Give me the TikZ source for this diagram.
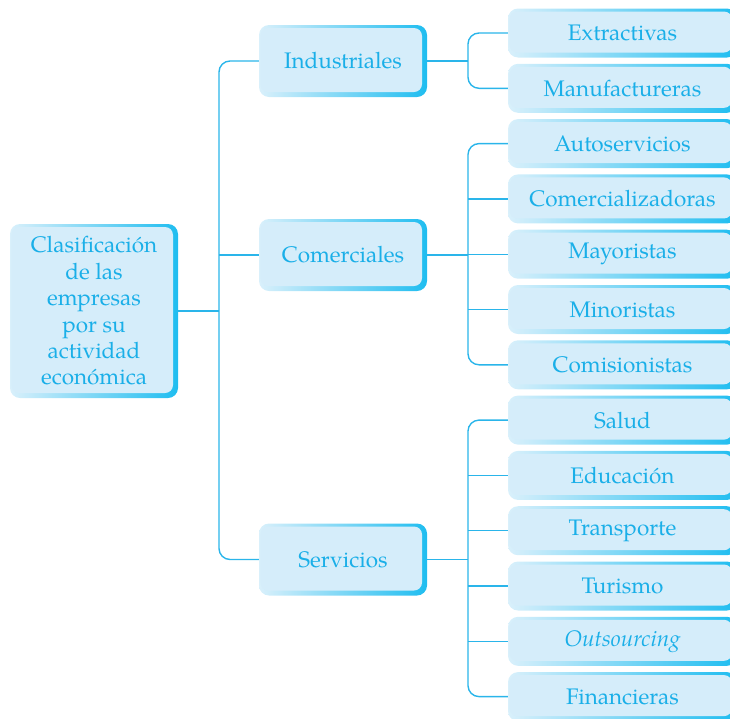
\documentclass[tikz,border=0pt]{standalone}
\usepackage{fontspec}
\setmainfont{TeX Gyre Pagella}
\definecolor{boxfill}{HTML}{D5EDFA}
\definecolor{boxlight}{HTML}{D9F0FB}
\definecolor{boxdark}{HTML}{1FBDF0}
\definecolor{txt}{HTML}{1AAFE8}
\definecolor{linec}{HTML}{2AB5EA}
\tikzset{
  boxbase/.style={rounded corners=10pt, inner sep=0pt, left color=boxlight, right color=boxdark,
    text=txt, font=\fontsize{22.5}{26.4}\selectfont, align=center,
    path picture={\fill[boxfill, rounded corners=8pt]
      ([xshift=1.5pt,yshift=-3pt]path picture bounding box.north west) rectangle
      ([xshift=-5pt,yshift=5pt]path picture bounding box.south east);}},
  rootbox/.style={boxbase, minimum width=168pt, minimum height=174pt},
  midbox/.style={boxbase, minimum width=168pt, minimum height=72pt},
  leafbox/.style={boxbase, minimum width=229pt, minimum height=49pt},
  conn/.style={draw=linec, line width=1.4pt},
}
\begin{document}
\begin{tikzpicture}[x=1pt,y=-1pt]
\useasboundingbox (0,0) rectangle (730,718);
\clip (0,0) rectangle (730,718);
\node[rootbox] (root) at (94,311) {Clasificación\\de las\\empresas\\por su\\actividad\\económica};
\node[midbox] (ind) at (343,61) {Industriales};
\node[midbox] (com) at (343,255) {Comerciales};
\node[midbox] (serv) at (343,559.5) {Servicios};
\node[leafbox] (l1) at (622.5,33) {Extractivas};
\node[leafbox] (l2) at (622.5,88.3) {Manufactureras};
\node[leafbox] (l3) at (622.5,143.6) {Autoservicios};
\node[leafbox] (l4) at (622.5,198.9) {Comercializadoras};
\node[leafbox] (l5) at (622.5,254.2) {Mayoristas};
\node[leafbox] (l6) at (622.5,309.5) {Minoristas};
\node[leafbox] (l7) at (622.5,364.8) {Comisionistas};
\node[leafbox] (l8) at (622.5,420.1) {Salud};
\node[leafbox] (l9) at (622.5,475.4) {Educación};
\node[leafbox] (l10) at (622.5,530.7) {Transporte};
\node[leafbox] (l11) at (622.5,586) {Turismo};
\node[leafbox] (l12) at (622.5,641.3) {\textit{Outsourcing}};
\node[leafbox] (l13) at (622.5,696.6) {Financieras};
\coordinate (j1) at (219,311);
\coordinate (j2) at (468,61);
\coordinate (j3) at (468,255);
\coordinate (j4) at (468,559.5);
% level 1
\draw[conn] (root.east) -- (j1);
\draw[conn, rounded corners=11pt] (ind.west) -| (j1) |- (serv.west);
\draw[conn] (j1 |- com.west) -- (com.west);
% industriales
\draw[conn] (ind.east) -- (j2);
\draw[conn, rounded corners=11pt] (l1.west) -| (j2) |- (l2.west);
% comerciales
\draw[conn] (com.east) -- (j3);
\draw[conn, rounded corners=11pt] (l3.west) -| (j3) |- (l7.west);
\foreach \n in {l4,l5,l6} \draw[conn] (j3 |- \n.west) -- (\n.west);
% servicios
\draw[conn] (serv.east) -- (j4);
\draw[conn, rounded corners=11pt] (l8.west) -| (j4) |- (l13.west);
\foreach \n in {l9,l10,l11,l12} \draw[conn] (j4 |- \n.west) -- (\n.west);
\end{tikzpicture}
\end{document}
